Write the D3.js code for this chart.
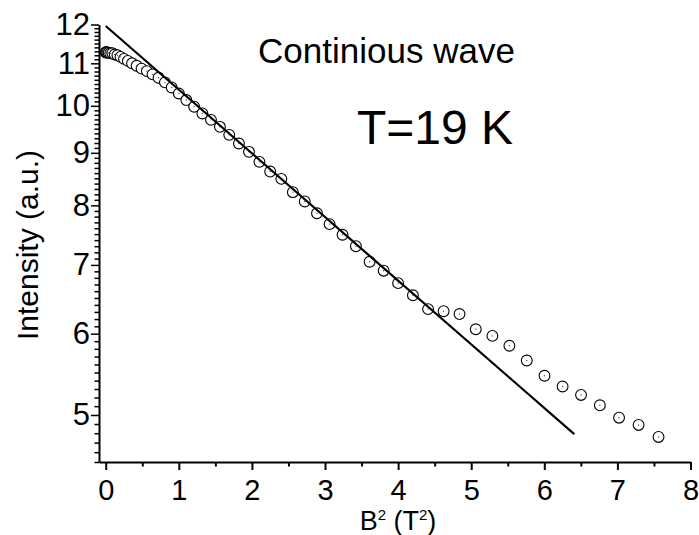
<!DOCTYPE html>
<html>
<head>
<meta charset="utf-8">
<script src="https://cdn.jsdelivr.net/npm/d3@7"></script>
<style>
  html, body { margin: 0; padding: 0; background: #fff; }
  svg { display: block; }
  text { font-family: "Liberation Sans", Arial, sans-serif; fill: #000; }
</style>
</head>
<body>
<script>
// B^2 values (T^2) of the measured points
const bSquared = [0, 0.0025, 0.01, 0.0225, 0.04, 0.0625, 0.09, 0.1225, 0.16, 0.2025,
  0.25, 0.3025, 0.36, 0.4225, 0.49, 0.5625, 0.64, 0.7225, 0.81, 0.9025,
  1.0, 1.1025, 1.21, 1.3225, 1.44, 1.5625, 1.69, 1.8225, 1.96, 2.1025,
  2.25, 2.4025, 2.56, 2.7225, 2.89, 3.0625, 3.24, 3.4225, 3.61, 3.8025,
  4.0, 4.2025, 4.41, 4.6225, 4.84, 5.0625, 5.29, 5.5225, 5.76, 6.0025,
  6.25, 6.5025, 6.76, 7.0225, 7.29, 7.5625];
// Intensity (a.u.)
const intensity = [11.27, 11.28, 11.28, 11.27, 11.26, 11.25, 11.25, 11.22, 11.20, 11.16,
  11.11, 11.06, 11.00, 10.94, 10.87, 10.81, 10.73, 10.65, 10.54, 10.42,
  10.28, 10.13, 9.98, 9.83, 9.69, 9.54, 9.37, 9.19, 9.02, 8.82,
  8.63, 8.49, 8.24, 8.07, 7.86, 7.67, 7.49, 7.30, 7.05, 6.91,
  6.72, 6.54, 6.34, 6.31, 6.27, 6.06, 5.97, 5.84, 5.65, 5.46,
  5.33, 5.23, 5.11, 4.97, 4.89, 4.76];
// Linear fit (exponential in log scale) endpoints
const fitX = [0, 6.41];
const fitY = [11.96, 4.79];
// Tick labels
const xTicks = [0, 1, 2, 3, 4, 5, 6, 7, 8];
const xMinorTicks = [0.5, 1.5, 2.5, 3.5, 4.5, 5.5, 6.5, 7.5];
const yTicks = [5, 6, 7, 8, 9, 10, 11, 12];
const yMinorTicks = [4.5, 4.6, 4.7, 4.8, 4.9,
  5.1, 5.2, 5.3, 5.4, 5.5, 5.6, 5.7, 5.8, 5.9,
  6.1, 6.2, 6.3, 6.4, 6.5, 6.6, 6.7, 6.8, 6.9,
  7.1, 7.2, 7.3, 7.4, 7.5, 7.6, 7.7, 7.8, 7.9,
  8.1, 8.2, 8.3, 8.4, 8.5, 8.6, 8.7, 8.8, 8.9,
  9.1, 9.2, 9.3, 9.4, 9.5, 9.6, 9.7, 9.8, 9.9,
  10.1, 10.2, 10.3, 10.4, 10.5, 10.6, 10.7, 10.8, 10.9,
  11.1, 11.2, 11.3, 11.4, 11.5, 11.6, 11.7, 11.8, 11.9];
const titleText = "Continious wave";
const tempText = "T=19 K";

const W = 699, H = 535;
const svg = d3.select("body").append("svg").attr("width", W).attr("height", H);

const x = d3.scaleLinear().domain([-0.092, 8]).range([99, 690.5]);
const y = d3.scaleLog().domain([4.5, 12]).range([462, 24.5]);

// Axes
const gx = svg.append("g").attr("transform", `translate(0,${y.range()[0]})`);
gx.call(d3.axisBottom(x).tickValues(xMinorTicks).tickSize(4.5).tickSizeOuter(0).tickFormat(""));
gx.call(g => g.select(".domain").remove());
const gx2 = svg.append("g").attr("transform", `translate(0,${y.range()[0]})`);
gx2.call(d3.axisBottom(x).tickValues(xTicks).tickSize(8).tickSizeOuter(0).tickPadding(9).tickFormat(d3.format("d")));
gx2.select(".domain").attr("stroke-width", 2);
[gx, gx2].forEach(g => g.selectAll(".tick line").attr("stroke-width", 2));
gx2.selectAll(".tick text").style("font-size", "29px");

const gy = svg.append("g").attr("transform", `translate(${x.range()[0]},0)`);
gy.call(d3.axisLeft(y).tickValues(yMinorTicks).tickSize(4.5).tickSizeOuter(0).tickFormat(""));
gy.call(g => g.select(".domain").remove());
const gy2 = svg.append("g").attr("transform", `translate(${x.range()[0]},0)`);
gy2.call(d3.axisLeft(y).tickValues(yTicks).tickSize(8).tickSizeOuter(0).tickPadding(1).tickFormat(d3.format("d")));
gy2.select(".domain").attr("stroke-width", 2);
[gy, gy2].forEach(g => g.selectAll(".tick line").attr("stroke-width", 1.5));
gy2.selectAll(".tick text").style("font-size", "31px");
svg.selectAll(".tick text").attr("fill", "#000");

// Data points (open circles with a center dot)
const pts = svg.append("g");
const data = bSquared.map((b, i) => ({ b, v: intensity[i] }));
pts.selectAll("circle.pt").data(data).join("circle")
  .attr("class", "pt")
  .attr("cx", d => x(d.b)).attr("cy", d => y(d.v)).attr("r", 5.4)
  .attr("fill", "#fff").attr("stroke", "#000").attr("stroke-width", 1.1);
pts.selectAll("circle.dot").data(data).join("circle")
  .attr("class", "dot")
  .attr("cx", d => x(d.b)).attr("cy", d => y(d.v)).attr("r", 0.7)
  .attr("fill", "#555");

// Fit line
svg.append("path")
  .datum(fitX.map((fx, i) => [fx, fitY[i]]))
  .attr("d", d3.line().x(d => x(d[0])).y(d => y(d[1])))
  .attr("fill", "none").attr("stroke", "#000").attr("stroke-width", 2.2);

// Annotations
svg.append("text").attr("x", 386.5).attr("y", 63).attr("text-anchor", "middle")
  .style("font-size", "35px").text(titleText);
svg.append("text").attr("x", 435).attr("y", 144).attr("text-anchor", "middle")
  .style("font-size", "48px").text(tempText);

// Axis titles
const xl = svg.append("text").attr("x", 398).attr("y", 530).attr("text-anchor", "middle")
  .style("font-size", "27px");
xl.append("tspan").text("B");
xl.append("tspan").attr("dy", -10).style("font-size", "15px").text("2");
xl.append("tspan").attr("dy", 10).text(" (T");
xl.append("tspan").attr("dy", -10).style("font-size", "15px").text("2");
xl.append("tspan").attr("dy", 10).text(")");

svg.append("text").attr("transform", "translate(38,245) rotate(-90)")
  .attr("text-anchor", "middle").style("font-size", "30px").text("Intensity (a.u.)");
</script>
</body>
</html>
